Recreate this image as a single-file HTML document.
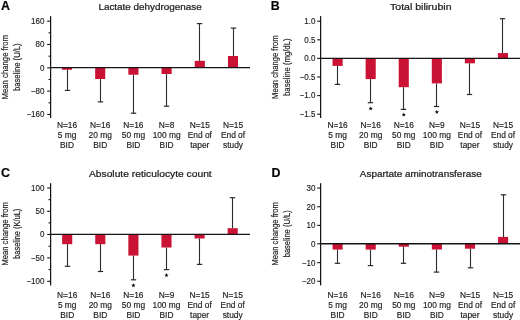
<!DOCTYPE html>
<html><head><meta charset="utf-8"><style>
html,body{margin:0;padding:0;background:#fff;}
svg{display:block;will-change:transform;}
text{font-family:"Liberation Sans",sans-serif;fill:#1c1c1c;stroke:#1c1c1c;stroke-width:0.18px;}
.tk{font-size:8.6px;text-anchor:end;stroke-width:0.15px;}
.xl{font-size:8.4px;text-anchor:middle;stroke-width:0.16px;}
.ti{font-size:9.5px;text-anchor:middle;stroke-width:0.24px;}
.lt{font-size:12.4px;font-weight:bold;fill:#000;}
.yt{font-size:8.9px;text-anchor:middle;stroke:#1c1c1c;stroke-width:0.18px;}
</style></head><body>
<svg width="520" height="320" viewBox="0 0 520 320">
<rect width="520" height="320" fill="#fff"/>
<g transform="translate(0,0)"><rect x="61.95" y="67.6" width="10.1" height="2.15" fill="#ca1234"/><line x1="67.5" y1="69.75" x2="67.5" y2="90.4" stroke="#2a2a2a" stroke-width="1.1"/><line x1="64.8" y1="90.4" x2="70.2" y2="90.4" stroke="#2a2a2a" stroke-width="1.2"/><rect x="95.15" y="67.6" width="10.1" height="11.4" fill="#ca1234"/><line x1="100.5" y1="79" x2="100.5" y2="101.9" stroke="#2a2a2a" stroke-width="1.1"/><line x1="97.8" y1="101.9" x2="103.2" y2="101.9" stroke="#2a2a2a" stroke-width="1.2"/><rect x="128.35" y="67.6" width="10.1" height="7.15" fill="#ca1234"/><line x1="133.5" y1="74.75" x2="133.5" y2="113.2" stroke="#2a2a2a" stroke-width="1.1"/><line x1="130.8" y1="113.2" x2="136.2" y2="113.2" stroke="#2a2a2a" stroke-width="1.2"/><rect x="161.55" y="67.6" width="10.1" height="6.4" fill="#ca1234"/><line x1="166.5" y1="74" x2="166.5" y2="106.2" stroke="#2a2a2a" stroke-width="1.1"/><line x1="163.8" y1="106.2" x2="169.2" y2="106.2" stroke="#2a2a2a" stroke-width="1.2"/><rect x="194.75" y="60.8" width="10.1" height="6.8" fill="#ca1234"/><line x1="199.5" y1="23.6" x2="199.5" y2="60.8" stroke="#2a2a2a" stroke-width="1.1"/><line x1="196.8" y1="23.6" x2="202.2" y2="23.6" stroke="#2a2a2a" stroke-width="1.2"/><rect x="227.95" y="56" width="10.1" height="11.6" fill="#ca1234"/><line x1="233.5" y1="28.1" x2="233.5" y2="56" stroke="#2a2a2a" stroke-width="1.1"/><line x1="230.8" y1="28.1" x2="236.2" y2="28.1" stroke="#2a2a2a" stroke-width="1.2"/><line x1="50" y1="67.6" x2="250" y2="67.6" stroke="#151515" stroke-width="1.35"/><line x1="50.6" y1="16.1" x2="50.6" y2="118" stroke="#151515" stroke-width="1.25"/><line x1="47.2" y1="21.2" x2="50.6" y2="21.2" stroke="#151515" stroke-width="1.1"/><text transform="translate(44.4,24.05) scale(0.93,1)" class="tk">160</text><line x1="47.2" y1="44.5" x2="50.6" y2="44.5" stroke="#151515" stroke-width="1.1"/><text transform="translate(44.4,47.35) scale(0.93,1)" class="tk">80</text><line x1="47.2" y1="67.85" x2="50.6" y2="67.85" stroke="#151515" stroke-width="1.1"/><text transform="translate(44.4,70.7) scale(0.93,1)" class="tk">0</text><line x1="47.2" y1="91.1" x2="50.6" y2="91.1" stroke="#151515" stroke-width="1.1"/><text transform="translate(44.4,93.95) scale(0.93,1)" class="tk">−80</text><line x1="47.2" y1="114.4" x2="50.6" y2="114.4" stroke="#151515" stroke-width="1.1"/><text transform="translate(44.4,117.25) scale(0.93,1)" class="tk">−160</text><line x1="48.5" y1="32.85" x2="50.6" y2="32.85" stroke="#151515" stroke-width="1.1"/><line x1="48.5" y1="56.2" x2="50.6" y2="56.2" stroke="#151515" stroke-width="1.1"/><line x1="48.5" y1="79.5" x2="50.6" y2="79.5" stroke="#151515" stroke-width="1.1"/><line x1="48.5" y1="102.8" x2="50.6" y2="102.8" stroke="#151515" stroke-width="1.1"/><text transform="translate(67,127.9) scale(1,1)" class="xl">N=16</text><text transform="translate(67,137.75) scale(1,1)" class="xl">5 mg</text><text transform="translate(67,147.5) scale(1,1)" class="xl">BID</text><text transform="translate(100.2,127.9) scale(1,1)" class="xl">N=16</text><text transform="translate(100.2,137.75) scale(1,1)" class="xl">20 mg</text><text transform="translate(100.2,147.5) scale(1,1)" class="xl">BID</text><text transform="translate(133.4,127.9) scale(1,1)" class="xl">N=16</text><text transform="translate(133.4,137.75) scale(1,1)" class="xl">50 mg</text><text transform="translate(133.4,147.5) scale(1,1)" class="xl">BID</text><text transform="translate(166.6,127.9) scale(1,1)" class="xl">N=8</text><text transform="translate(166.6,137.75) scale(1,1)" class="xl">100 mg</text><text transform="translate(166.6,147.5) scale(1,1)" class="xl">BID</text><text transform="translate(199.8,127.9) scale(1,1)" class="xl">N=15</text><text transform="translate(199.8,137.75) scale(1,1)" class="xl">End of</text><text transform="translate(199.8,147.5) scale(1,1)" class="xl">taper</text><text transform="translate(233,127.9) scale(1,1)" class="xl">N=15</text><text transform="translate(233,137.75) scale(1,1)" class="xl">End of</text><text transform="translate(233,147.5) scale(1,1)" class="xl">study</text><text x="150.05" y="9.9" class="ti" textLength="103.3" lengthAdjust="spacingAndGlyphs">Lactate dehydrogenase</text><text x="1.1" y="9.6" class="lt">A</text><g transform="translate(0,67.2) rotate(-90)"><text x="0" y="8.2" class="yt" textLength="64.5" lengthAdjust="spacingAndGlyphs">Mean change from</text><text x="0" y="19.9" class="yt" textLength="47.5" lengthAdjust="spacingAndGlyphs">baseline (U/L)</text></g></g>
<g transform="translate(270,0)"><rect x="62.55" y="58.4" width="10.1" height="7.5" fill="#ca1234"/><line x1="67.5" y1="65.9" x2="67.5" y2="84.4" stroke="#2a2a2a" stroke-width="1.1"/><line x1="64.8" y1="84.4" x2="70.2" y2="84.4" stroke="#2a2a2a" stroke-width="1.2"/><rect x="95.63" y="58.4" width="10.1" height="20.7" fill="#ca1234"/><line x1="100.5" y1="79.1" x2="100.5" y2="102.7" stroke="#2a2a2a" stroke-width="1.1"/><line x1="97.8" y1="102.7" x2="103.2" y2="102.7" stroke="#2a2a2a" stroke-width="1.2"/><rect x="128.71" y="58.4" width="10.1" height="28.8" fill="#ca1234"/><line x1="133.5" y1="87.2" x2="133.5" y2="109.4" stroke="#2a2a2a" stroke-width="1.1"/><line x1="130.8" y1="109.4" x2="136.2" y2="109.4" stroke="#2a2a2a" stroke-width="1.2"/><rect x="161.79" y="58.4" width="10.1" height="25" fill="#ca1234"/><line x1="166.5" y1="83.4" x2="166.5" y2="106.5" stroke="#2a2a2a" stroke-width="1.1"/><line x1="163.8" y1="106.5" x2="169.2" y2="106.5" stroke="#2a2a2a" stroke-width="1.2"/><rect x="194.87" y="58.4" width="10.1" height="4.9" fill="#ca1234"/><line x1="199.5" y1="63.3" x2="199.5" y2="94.5" stroke="#2a2a2a" stroke-width="1.1"/><line x1="196.8" y1="94.5" x2="202.2" y2="94.5" stroke="#2a2a2a" stroke-width="1.2"/><rect x="227.95" y="53.06" width="10.1" height="5.34" fill="#ca1234"/><line x1="232.5" y1="18.7" x2="232.5" y2="53.06" stroke="#2a2a2a" stroke-width="1.1"/><line x1="229.8" y1="18.7" x2="235.2" y2="18.7" stroke="#2a2a2a" stroke-width="1.2"/><polygon points="100.68,106.4 101.27,107.79 102.77,107.92 101.63,108.91 101.97,110.38 100.68,109.6 99.39,110.38 99.73,108.91 98.59,107.92 100.09,107.79" fill="#111"/><polygon points="133.76,112.5 134.35,113.89 135.85,114.02 134.71,115.01 135.05,116.48 133.76,115.7 132.47,116.48 132.81,115.01 131.67,114.02 133.17,113.89" fill="#111"/><polygon points="166.84,109.8 167.43,111.19 168.93,111.32 167.79,112.31 168.13,113.78 166.84,113 165.55,113.78 165.89,112.31 164.75,111.32 166.25,111.19" fill="#111"/><line x1="50" y1="58.4" x2="250" y2="58.4" stroke="#151515" stroke-width="1.35"/><line x1="50.6" y1="16.1" x2="50.6" y2="118" stroke="#151515" stroke-width="1.25"/><line x1="47.2" y1="21.2" x2="50.6" y2="21.2" stroke="#151515" stroke-width="1.1"/><text transform="translate(45.4,24.05) scale(0.93,1)" class="tk">1.0</text><line x1="47.2" y1="39.8" x2="50.6" y2="39.8" stroke="#151515" stroke-width="1.1"/><text transform="translate(45.4,42.65) scale(0.93,1)" class="tk">0.5</text><line x1="47.2" y1="58.4" x2="50.6" y2="58.4" stroke="#151515" stroke-width="1.1"/><text transform="translate(45.4,61.25) scale(0.93,1)" class="tk">0.0</text><line x1="47.2" y1="77" x2="50.6" y2="77" stroke="#151515" stroke-width="1.1"/><text transform="translate(45.4,79.85) scale(0.93,1)" class="tk">−0.5</text><line x1="47.2" y1="95.6" x2="50.6" y2="95.6" stroke="#151515" stroke-width="1.1"/><text transform="translate(45.4,98.45) scale(0.93,1)" class="tk">−1.0</text><line x1="47.2" y1="114.2" x2="50.6" y2="114.2" stroke="#151515" stroke-width="1.1"/><text transform="translate(45.4,117.05) scale(0.93,1)" class="tk">−1.5</text><text transform="translate(67.6,127.9) scale(1,1)" class="xl">N=16</text><text transform="translate(67.6,137.75) scale(1,1)" class="xl">5 mg</text><text transform="translate(67.6,147.5) scale(1,1)" class="xl">BID</text><text transform="translate(100.68,127.9) scale(1,1)" class="xl">N=16</text><text transform="translate(100.68,137.75) scale(1,1)" class="xl">20 mg</text><text transform="translate(100.68,147.5) scale(1,1)" class="xl">BID</text><text transform="translate(133.76,127.9) scale(1,1)" class="xl">N=16</text><text transform="translate(133.76,137.75) scale(1,1)" class="xl">50 mg</text><text transform="translate(133.76,147.5) scale(1,1)" class="xl">BID</text><text transform="translate(166.84,127.9) scale(1,1)" class="xl">N=9</text><text transform="translate(166.84,137.75) scale(1,1)" class="xl">100 mg</text><text transform="translate(166.84,147.5) scale(1,1)" class="xl">BID</text><text transform="translate(199.92,127.9) scale(1,1)" class="xl">N=15</text><text transform="translate(199.92,137.75) scale(1,1)" class="xl">End of</text><text transform="translate(199.92,147.5) scale(1,1)" class="xl">taper</text><text transform="translate(233,127.9) scale(1,1)" class="xl">N=15</text><text transform="translate(233,137.75) scale(1,1)" class="xl">End of</text><text transform="translate(233,147.5) scale(1,1)" class="xl">study</text><text x="150.8" y="9.9" class="ti" textLength="61.4" lengthAdjust="spacingAndGlyphs">Total bilirubin</text><text x="0.7" y="9.6" class="lt">B</text><g transform="translate(0,67.2) rotate(-90)"><text x="0" y="8.2" class="yt" textLength="63.5" lengthAdjust="spacingAndGlyphs">Mean change from</text><text x="0" y="19.9" class="yt" textLength="57.5" lengthAdjust="spacingAndGlyphs">baseline (mg/dL)</text></g></g>
<g transform="translate(0,166.5)"><rect x="62.15" y="67.85" width="10.1" height="9.85" fill="#ca1234"/><line x1="67.5" y1="77.7" x2="67.5" y2="99.8" stroke="#2a2a2a" stroke-width="1.1"/><line x1="64.8" y1="99.8" x2="70.2" y2="99.8" stroke="#2a2a2a" stroke-width="1.2"/><rect x="95.25" y="67.85" width="10.1" height="9.85" fill="#ca1234"/><line x1="100.5" y1="77.7" x2="100.5" y2="105" stroke="#2a2a2a" stroke-width="1.1"/><line x1="97.8" y1="105" x2="103.2" y2="105" stroke="#2a2a2a" stroke-width="1.2"/><rect x="128.35" y="67.85" width="10.1" height="21.25" fill="#ca1234"/><line x1="133.5" y1="89.1" x2="133.5" y2="113.3" stroke="#2a2a2a" stroke-width="1.1"/><line x1="130.8" y1="113.3" x2="136.2" y2="113.3" stroke="#2a2a2a" stroke-width="1.2"/><rect x="161.45" y="67.85" width="10.1" height="13.15" fill="#ca1234"/><line x1="166.5" y1="81" x2="166.5" y2="103.1" stroke="#2a2a2a" stroke-width="1.1"/><line x1="163.8" y1="103.1" x2="169.2" y2="103.1" stroke="#2a2a2a" stroke-width="1.2"/><rect x="194.55" y="67.85" width="10.1" height="4.15" fill="#ca1234"/><line x1="199.5" y1="72" x2="199.5" y2="97.9" stroke="#2a2a2a" stroke-width="1.1"/><line x1="196.8" y1="97.9" x2="202.2" y2="97.9" stroke="#2a2a2a" stroke-width="1.2"/><rect x="227.65" y="61.7" width="10.1" height="6.15" fill="#ca1234"/><line x1="232.5" y1="31.2" x2="232.5" y2="61.7" stroke="#2a2a2a" stroke-width="1.1"/><line x1="229.8" y1="31.2" x2="235.2" y2="31.2" stroke="#2a2a2a" stroke-width="1.2"/><polygon points="133.4,116.7 133.99,118.09 135.49,118.22 134.35,119.21 134.69,120.68 133.4,119.9 132.11,120.68 132.45,119.21 131.31,118.22 132.81,118.09" fill="#111"/><polygon points="166.5,106.6 167.09,107.99 168.59,108.12 167.45,109.11 167.79,110.58 166.5,109.8 165.21,110.58 165.55,109.11 164.41,108.12 165.91,107.99" fill="#111"/><line x1="50" y1="67.85" x2="250" y2="67.85" stroke="#151515" stroke-width="1.35"/><line x1="50.6" y1="16.7" x2="50.6" y2="118.9" stroke="#151515" stroke-width="1.25"/><line x1="47.2" y1="21.5" x2="50.6" y2="21.5" stroke="#151515" stroke-width="1.1"/><text transform="translate(44.4,24.35) scale(0.93,1)" class="tk">100</text><line x1="47.2" y1="44.8" x2="50.6" y2="44.8" stroke="#151515" stroke-width="1.1"/><text transform="translate(44.4,47.65) scale(0.93,1)" class="tk">50</text><line x1="47.2" y1="67.95" x2="50.6" y2="67.95" stroke="#151515" stroke-width="1.1"/><text transform="translate(44.4,70.8) scale(0.93,1)" class="tk">0</text><line x1="47.2" y1="91.4" x2="50.6" y2="91.4" stroke="#151515" stroke-width="1.1"/><text transform="translate(44.4,94.25) scale(0.93,1)" class="tk">−50</text><line x1="47.2" y1="114.8" x2="50.6" y2="114.8" stroke="#151515" stroke-width="1.1"/><text transform="translate(44.4,117.65) scale(0.93,1)" class="tk">−100</text><line x1="48.5" y1="33.15" x2="50.6" y2="33.15" stroke="#151515" stroke-width="1.1"/><line x1="48.5" y1="56.4" x2="50.6" y2="56.4" stroke="#151515" stroke-width="1.1"/><line x1="48.5" y1="79.7" x2="50.6" y2="79.7" stroke="#151515" stroke-width="1.1"/><line x1="48.5" y1="103.1" x2="50.6" y2="103.1" stroke="#151515" stroke-width="1.1"/><text transform="translate(67.2,131.4) scale(1,1)" class="xl">N=16</text><text transform="translate(67.2,141.3) scale(1,1)" class="xl">5 mg</text><text transform="translate(67.2,151) scale(1,1)" class="xl">BID</text><text transform="translate(100.3,131.4) scale(1,1)" class="xl">N=16</text><text transform="translate(100.3,141.3) scale(1,1)" class="xl">20 mg</text><text transform="translate(100.3,151) scale(1,1)" class="xl">BID</text><text transform="translate(133.4,131.4) scale(1,1)" class="xl">N=16</text><text transform="translate(133.4,141.3) scale(1,1)" class="xl">50 mg</text><text transform="translate(133.4,151) scale(1,1)" class="xl">BID</text><text transform="translate(166.5,131.4) scale(1,1)" class="xl">N=9</text><text transform="translate(166.5,141.3) scale(1,1)" class="xl">100 mg</text><text transform="translate(166.5,151) scale(1,1)" class="xl">BID</text><text transform="translate(199.6,131.4) scale(1,1)" class="xl">N=15</text><text transform="translate(199.6,141.3) scale(1,1)" class="xl">End of</text><text transform="translate(199.6,151) scale(1,1)" class="xl">taper</text><text transform="translate(232.7,131.4) scale(1,1)" class="xl">N=15</text><text transform="translate(232.7,141.3) scale(1,1)" class="xl">End of</text><text transform="translate(232.7,151) scale(1,1)" class="xl">study</text><text x="150.35" y="10" class="ti" textLength="122.8" lengthAdjust="spacingAndGlyphs">Absolute reticulocyte count</text><text x="1.1" y="10.4" class="lt">C</text><g transform="translate(0,67.3) rotate(-90)"><text x="0" y="8.2" class="yt" textLength="63.5" lengthAdjust="spacingAndGlyphs">Mean change from</text><text x="0" y="19.9" class="yt" textLength="50.2" lengthAdjust="spacingAndGlyphs">baseline (K/uL)</text></g></g>
<g transform="translate(270,166.5)"><rect x="62.55" y="77.25" width="10.1" height="5.85" fill="#ca1234"/><line x1="67.5" y1="83.1" x2="67.5" y2="96.8" stroke="#2a2a2a" stroke-width="1.1"/><line x1="64.8" y1="96.8" x2="70.2" y2="96.8" stroke="#2a2a2a" stroke-width="1.2"/><rect x="95.65" y="77.25" width="10.1" height="5.85" fill="#ca1234"/><line x1="100.5" y1="83.1" x2="100.5" y2="99.1" stroke="#2a2a2a" stroke-width="1.1"/><line x1="97.8" y1="99.1" x2="103.2" y2="99.1" stroke="#2a2a2a" stroke-width="1.2"/><rect x="128.75" y="77.25" width="10.1" height="2.95" fill="#ca1234"/><line x1="133.5" y1="80.2" x2="133.5" y2="96.8" stroke="#2a2a2a" stroke-width="1.1"/><line x1="130.8" y1="96.8" x2="136.2" y2="96.8" stroke="#2a2a2a" stroke-width="1.2"/><rect x="161.85" y="77.25" width="10.1" height="5.75" fill="#ca1234"/><line x1="166.5" y1="83" x2="166.5" y2="105.6" stroke="#2a2a2a" stroke-width="1.1"/><line x1="163.8" y1="105.6" x2="169.2" y2="105.6" stroke="#2a2a2a" stroke-width="1.2"/><rect x="194.95" y="77.25" width="10.1" height="4.95" fill="#ca1234"/><line x1="200.5" y1="82.2" x2="200.5" y2="101.3" stroke="#2a2a2a" stroke-width="1.1"/><line x1="197.8" y1="101.3" x2="203.2" y2="101.3" stroke="#2a2a2a" stroke-width="1.2"/><rect x="228.05" y="70.4" width="10.1" height="6.85" fill="#ca1234"/><line x1="233.5" y1="28.3" x2="233.5" y2="70.4" stroke="#2a2a2a" stroke-width="1.1"/><line x1="230.8" y1="28.3" x2="236.2" y2="28.3" stroke="#2a2a2a" stroke-width="1.2"/><line x1="50" y1="77.25" x2="250" y2="77.25" stroke="#151515" stroke-width="1.35"/><line x1="50.6" y1="16.7" x2="50.6" y2="118.9" stroke="#151515" stroke-width="1.25"/><line x1="47.2" y1="21.6" x2="50.6" y2="21.6" stroke="#151515" stroke-width="1.1"/><text transform="translate(45.4,24.45) scale(0.93,1)" class="tk">30</text><line x1="47.2" y1="40.24" x2="50.6" y2="40.24" stroke="#151515" stroke-width="1.1"/><text transform="translate(45.4,43.09) scale(0.93,1)" class="tk">20</text><line x1="47.2" y1="58.88" x2="50.6" y2="58.88" stroke="#151515" stroke-width="1.1"/><text transform="translate(45.4,61.73) scale(0.93,1)" class="tk">10</text><line x1="47.2" y1="77.3" x2="50.6" y2="77.3" stroke="#151515" stroke-width="1.1"/><text transform="translate(45.4,80.15) scale(0.93,1)" class="tk">0</text><line x1="47.2" y1="96.16" x2="50.6" y2="96.16" stroke="#151515" stroke-width="1.1"/><text transform="translate(45.4,99.01) scale(0.93,1)" class="tk">−10</text><line x1="47.2" y1="114.8" x2="50.6" y2="114.8" stroke="#151515" stroke-width="1.1"/><text transform="translate(45.4,117.65) scale(0.93,1)" class="tk">−20</text><text transform="translate(67.6,131.4) scale(1,1)" class="xl">N=16</text><text transform="translate(67.6,141.3) scale(1,1)" class="xl">5 mg</text><text transform="translate(67.6,151) scale(1,1)" class="xl">BID</text><text transform="translate(100.7,131.4) scale(1,1)" class="xl">N=16</text><text transform="translate(100.7,141.3) scale(1,1)" class="xl">20 mg</text><text transform="translate(100.7,151) scale(1,1)" class="xl">BID</text><text transform="translate(133.8,131.4) scale(1,1)" class="xl">N=16</text><text transform="translate(133.8,141.3) scale(1,1)" class="xl">50 mg</text><text transform="translate(133.8,151) scale(1,1)" class="xl">BID</text><text transform="translate(166.9,131.4) scale(1,1)" class="xl">N=9</text><text transform="translate(166.9,141.3) scale(1,1)" class="xl">100 mg</text><text transform="translate(166.9,151) scale(1,1)" class="xl">BID</text><text transform="translate(200,131.4) scale(1,1)" class="xl">N=15</text><text transform="translate(200,141.3) scale(1,1)" class="xl">End of</text><text transform="translate(200,151) scale(1,1)" class="xl">taper</text><text transform="translate(233.1,131.4) scale(1,1)" class="xl">N=15</text><text transform="translate(233.1,141.3) scale(1,1)" class="xl">End of</text><text transform="translate(233.1,151) scale(1,1)" class="xl">study</text><text x="150.75" y="10" class="ti" textLength="121.9" lengthAdjust="spacingAndGlyphs">Aspartate aminotransferase</text><text x="1.6" y="10.4" class="lt">D</text><g transform="translate(0,67.3) rotate(-90)"><text x="0" y="8.2" class="yt" textLength="63.5" lengthAdjust="spacingAndGlyphs">Mean change from</text><text x="0" y="19.9" class="yt" textLength="47" lengthAdjust="spacingAndGlyphs">baseline (U/L)</text></g></g>
</svg>
</body></html>
